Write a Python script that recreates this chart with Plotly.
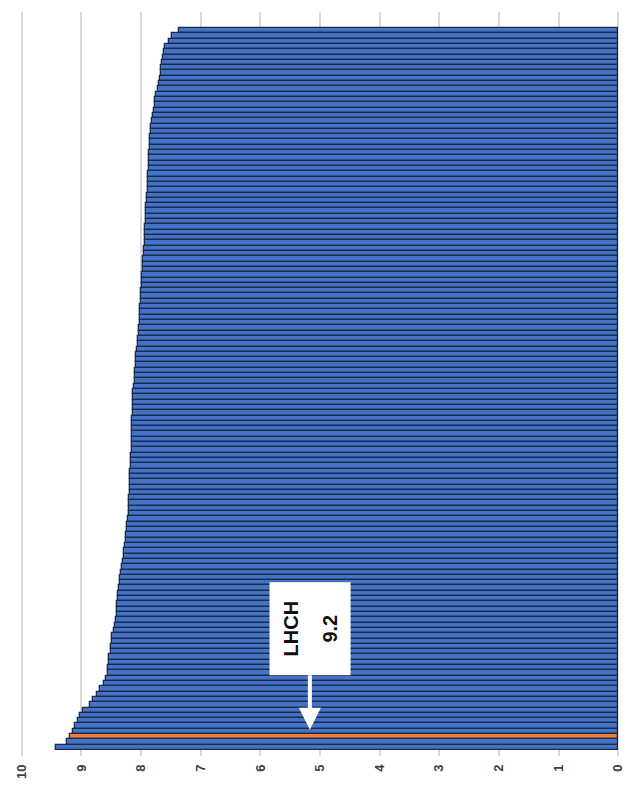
import plotly.graph_objects as go

# Scores per organisation, sorted from lowest (top bar) to highest (bottom bar)
scores = [
    7.37, 7.48, 7.53, 7.60, 7.62, 7.63, 7.65, 7.66, 7.67, 7.68,
    7.70, 7.72, 7.75, 7.76, 7.77, 7.78, 7.80, 7.82, 7.83, 7.84,
    7.85, 7.85, 7.85, 7.86, 7.86, 7.87, 7.87, 7.88, 7.88, 7.89,
    7.89, 7.90, 7.90, 7.91, 7.91, 7.92, 7.92, 7.93, 7.93, 7.94,
    7.94, 7.95, 7.95, 7.96, 7.97, 7.97, 7.98, 7.99, 7.99, 8.00,
    8.00, 8.00, 8.01, 8.01, 8.02, 8.02, 8.03, 8.04, 8.05, 8.06,
    8.07, 8.08, 8.08, 8.09, 8.10, 8.10, 8.11, 8.12, 8.13, 8.13,
    8.14, 8.14, 8.14, 8.15, 8.15, 8.15, 8.15, 8.16, 8.16, 8.16,
    8.17, 8.17, 8.17, 8.18, 8.18, 8.18, 8.19, 8.19, 8.20, 8.20,
    8.21, 8.21, 8.22, 8.23, 8.24, 8.25, 8.26, 8.27, 8.28, 8.29,
    8.30, 8.32, 8.34, 8.35, 8.36, 8.37, 8.38, 8.39, 8.40, 8.40,
    8.41, 8.42, 8.44, 8.46, 8.48, 8.49, 8.50, 8.51, 8.53, 8.54,
    8.55, 8.56, 8.58, 8.63, 8.69, 8.74, 8.80, 8.86, 8.98, 9.03,
    9.05, 9.11, 9.14, 9.20, 9.25, 9.42,
]
highlight_name = "LHCH"
highlight_index = 133          # position of the highlighted organisation
tick_values = [0, 1, 2, 3, 4, 5, 6, 7, 8, 9, 10]
tick_labels = [str(v) for v in tick_values]

positions = list(range(len(scores)))
colors = ["#ED7D31" if i == highlight_index else "#4472C4" for i in positions]

fig = go.Figure(
    go.Bar(
        x=scores,
        y=positions,
        orientation="h",
        marker=dict(color=colors, line=dict(color="#1A2A4A", width=1.3)),
        hoverinfo="x",
    )
)

highlight_value = scores[highlight_index]
# The annotation font size sets the line spacing; the spans set the glyph size
label_style = "font-size:20px"
fig.add_annotation(
    x=5.17,
    y=highlight_index - 1.3,
    xref="x",
    yref="y",
    text=(f"<span style='{label_style}'><b>{highlight_name}</b></span><br>"
          f"<span style='{label_style}'><b>{highlight_value:.1f}</b></span>"),
    textangle=-90,
    font=dict(family="Liberation Sans", size=30, color="#111111"),
    bgcolor="white",
    width=88,
    height=76,
    borderpad=2,
    showarrow=True,
    arrowhead=2,
    arrowsize=1.1,
    arrowwidth=4,
    arrowcolor="white",
    ax=0,
    ay=-101,
    standoff=0,
)

fig.update_layout(
    width=636,
    height=798,
    margin=dict(l=20, r=16, t=12, b=42),
    paper_bgcolor="white",
    plot_bgcolor="white",
    bargap=0,
    showlegend=False,
    xaxis=dict(
        range=[10.03, -0.03],
        tickvals=tick_values,
        ticktext=tick_labels,
        tickangle=-90,
        tickfont=dict(family="Liberation Sans", size=13, color="#404040", weight="bold"),
        ticklabelstandoff=5,
        showgrid=True,
        gridcolor="#D9D9D9",
        gridwidth=1.5,
        zeroline=False,
        showline=False,
        ticks="",
    ),
    yaxis=dict(
        range=[136.63, -3.51],
        showticklabels=False,
        showgrid=False,
        zeroline=False,
        ticks="",
    ),
)

fig.write_html("out.html")
